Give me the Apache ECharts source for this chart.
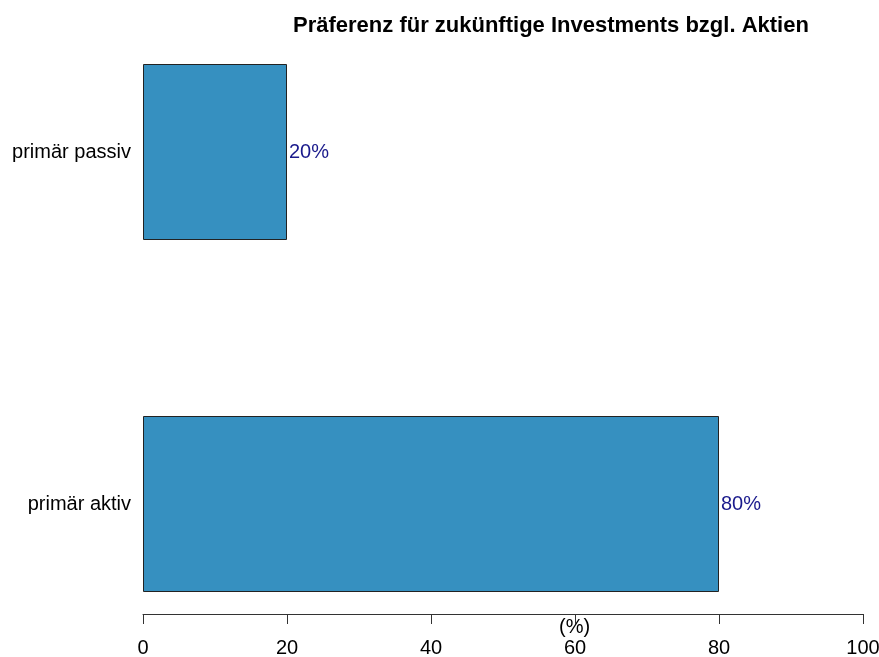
<!DOCTYPE html>
<html>
<head>
<meta charset="utf-8">
<script src="https://cdn.jsdelivr.net/npm/echarts@6/dist/echarts.min.js"></script>
<style>
  html, body { margin: 0; padding: 0; background: #fff; }
  #chart { width: 879px; height: 657px; }
</style>
</head>
<body>
<div id="chart"></div>
<script>
  var categories = ['primär aktiv', 'primär passiv'];
  var values = [80, 20];
  var xTicks = [0, 20, 40, 60, 80, 100];

  var dom = document.getElementById("chart");
  var myChart = echarts.init(dom);
  var font = 'Liberation Sans, Arial, sans-serif';
  option = {
      backgroundColor: '#fff',
      animation: false,
      title: {
          text: 'Präferenz für zukünftige Investments bzgl. Aktien',
          left: 288,
          top: 10,
          textStyle: { fontFamily: font, fontSize: 22, fontWeight: 'bold', color: '#000' }
      },
      grid: {
          left: 143,
          right: 16,
          top: 152,
          height: 352,
          outerBoundsMode: 'none'
      },
      xAxis: {
          type: 'value',
          min: xTicks[0],
          max: xTicks[xTicks.length - 1],
          interval: 20,
          offset: 110,
          axisLine: { show: true, lineStyle: { color: '#333', width: 1 } },
          axisTick: { show: true, length: 10, lineStyle: { color: '#333' } },
          axisLabel: { margin: 24, fontFamily: font, fontSize: 20, color: '#000' },
          splitLine: { show: false }
      },
      yAxis: {
          type: 'category',
          data: categories,
          boundaryGap: false,
          axisLine: { show: false },
          axisTick: { show: false },
          axisLabel: { margin: 12, fontFamily: font, fontSize: 20, color: '#000' }
      },
      graphic: [
          {
              type: 'text',
              left: 559,
              top: 617,
              style: { text: '(%)', font: '20px ' + font, fill: '#000' }
          }
      ],
      series: [
          {
              type: 'bar',
              data: values,
              barWidth: 176,
              itemStyle: { color: '#3690C0', borderColor: '#222', borderWidth: 1 },
              label: {
                  show: true,
                  position: 'right',
                  distance: 2,
                  formatter: '{c}%',
                  fontFamily: font,
                  fontSize: 20,
                  color: '#1a1a8c'
              }
          }
      ]
  };
  myChart.setOption(option, true);
</script>
</body>
</html>
